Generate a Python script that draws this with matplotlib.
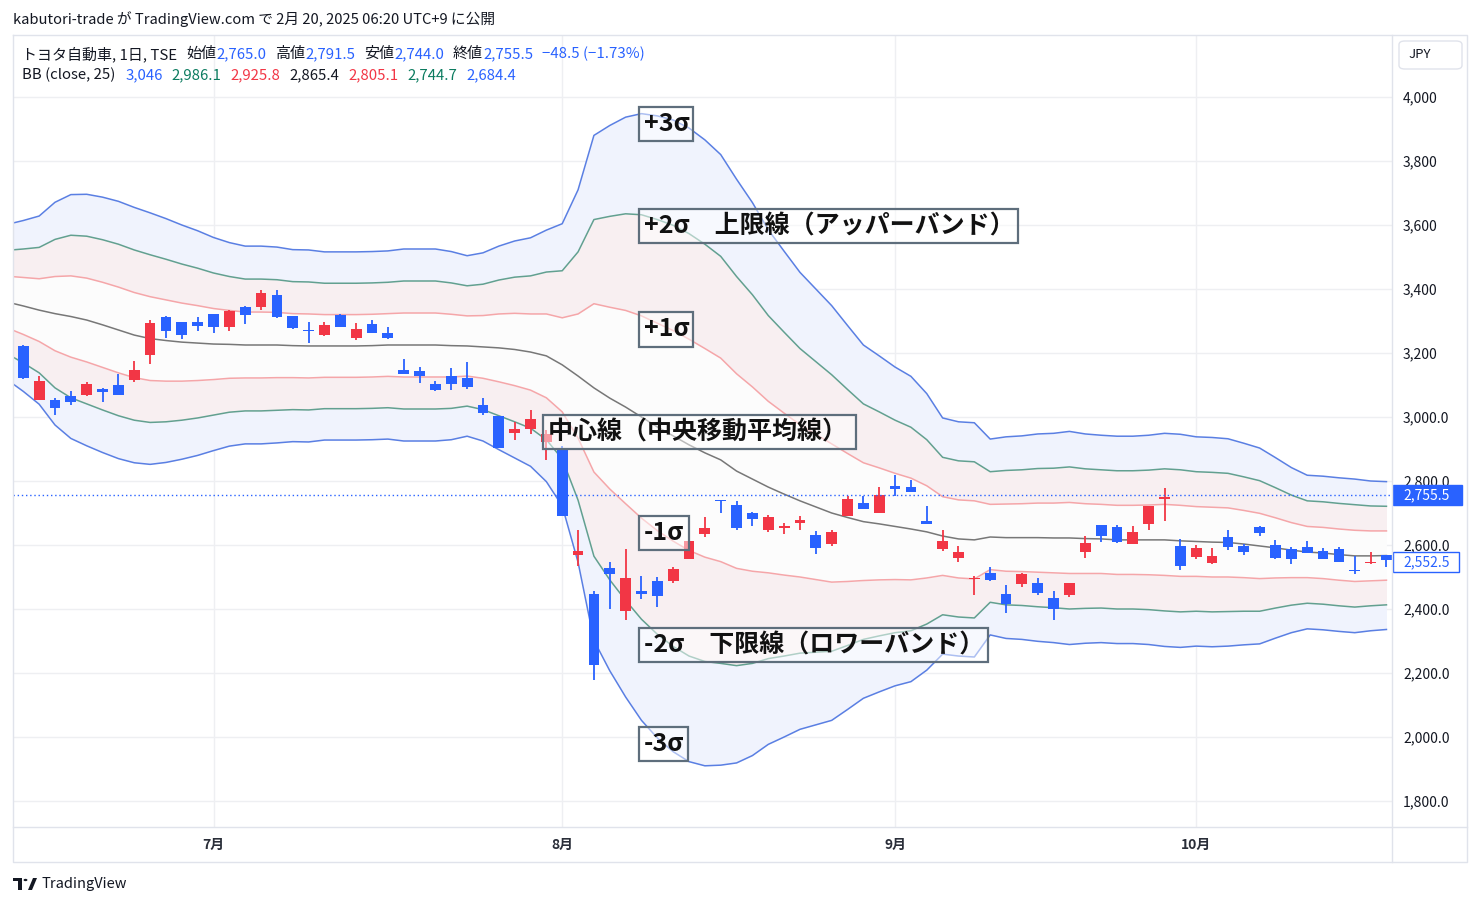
import matplotlib
matplotlib.use('Agg')
import matplotlib.pyplot as plt
import matplotlib.patches as patches
from matplotlib.lines import Line2D
import numpy as np
import pandas as pd

plt.rcParams['font.family'] = ['Noto Sans CJK JP', 'DejaVu Sans']

# 営業日 (2024/6/13 - 2024/10/18、祝日を除く)
holidays = ['2024-07-15', '2024-08-12', '2024-09-16', '2024-09-23', '2024-10-14']
days = pd.bdate_range('2024-06-13', '2024-10-18')
days = days[~days.isin(pd.to_datetime(holidays))]

# ローソク足 (始値, 高値, 安値, 終値)
opens = [3222, 3054, 3053, 3066, 3070, 3088, 3100, 3117, 3195, 3312, 3297, 3297, 3322, 3282,
         3344, 3344, 3381, 3316, 3272, 3257, 3319, 3248, 3291, 3262, 3147, 3144, 3103, 3128,
         3122, 3037, 3003, 2951, 2962, 2923, 2899, 2570, 2447, 2527, 2395, 2456, 2487, 2488,
         2557, 2635, 2741, 2725, 2700, 2647, 2654, 2670, 2631, 2604, 2692, 2731, 2700, 2784,
         2781, 2675, 2588, 2559, 2494, 2513, 2447, 2479, 2481, 2434, 2444, 2578, 2663, 2656,
         2603, 2666, 2745, 2597, 2564, 2545, 2625, 2598, 2656, 2600, 2588, 2594, 2581, 2588,
         2523, 2543, 2569]
highs = [3225, 3128, 3059, 3081, 3109, 3091, 3134, 3175, 3303, 3316, 3297, 3312, 3322, 3334,
         3347, 3397, 3397, 3316, 3297, 3297, 3322, 3294, 3303, 3281, 3181, 3156, 3112, 3153,
         3172, 3059, 3003, 2983, 3022, 2959, 2909, 2647, 2456, 2546, 2586, 2503, 2499, 2532,
         2630, 2687, 2741, 2737, 2703, 2694, 2669, 2691, 2644, 2647, 2753, 2753, 2781, 2819,
         2803, 2722, 2647, 2597, 2503, 2531, 2475, 2513, 2497, 2456, 2481, 2628, 2663, 2663,
         2659, 2722, 2778, 2619, 2600, 2591, 2647, 2602, 2659, 2616, 2594, 2613, 2591, 2594,
         2565, 2578, 2569]
lows = [3120, 3054, 3007, 3037, 3066, 3047, 3070, 3109, 3166, 3246, 3243, 3269, 3262, 3270,
        3292, 3334, 3310, 3275, 3232, 3254, 3282, 3242, 3263, 3245, 3135, 3107, 3081, 3085,
        3088, 3005, 2904, 2928, 2946, 2866, 2691, 2535, 2178, 2400, 2366, 2431, 2407, 2480,
        2557, 2625, 2701, 2647, 2660, 2641, 2635, 2647, 2573, 2597, 2692, 2713, 2700, 2753,
        2765, 2666, 2581, 2547, 2444, 2488, 2388, 2469, 2444, 2366, 2438, 2559, 2609, 2606,
        2603, 2647, 2675, 2522, 2557, 2542, 2585, 2570, 2629, 2557, 2542, 2576, 2557, 2548,
        2510, 2542, 2532]
closes = [3123, 3112, 3029, 3048, 3103, 3079, 3070, 3147, 3294, 3269, 3257, 3285, 3282, 3331,
          3320, 3387, 3313, 3278, 3269, 3287, 3282, 3275, 3263, 3248, 3135, 3128, 3085, 3104,
          3095, 3013, 2904, 2962, 2994, 2948, 2691, 2581, 2225, 2510, 2497, 2446, 2442, 2525,
          2612, 2653, 2737, 2654, 2682, 2687, 2659, 2678, 2592, 2641, 2744, 2713, 2756, 2776,
          2765, 2666, 2612, 2578, 2497, 2491, 2416, 2509, 2450, 2400, 2481, 2606, 2628, 2609,
          2641, 2722, 2749, 2534, 2591, 2566, 2595, 2579, 2638, 2560, 2557, 2576, 2557, 2548,
          2520, 2546, 2552.5]

# ボリンジャーバンド (25日): 中心線と σ (6/12 から)
bb_mid = [3359, 3347, 3334, 3323, 3314, 3303, 3288, 3272, 3256, 3245, 3239, 3234, 3231, 3228,
          3227, 3225, 3225, 3225, 3223, 3222, 3222, 3222, 3222, 3223, 3225, 3225, 3225, 3225,
          3223, 3222, 3219, 3216, 3211, 3203, 3191, 3163, 3128, 3091, 3059, 3031, 3000, 2969,
          2941, 2913, 2888, 2866, 2831, 2806, 2781, 2759, 2738, 2719, 2700, 2686, 2673, 2666,
          2658, 2650, 2641, 2628, 2619, 2616, 2625, 2623, 2623, 2623, 2622, 2622, 2620, 2619,
          2616, 2616, 2616, 2616, 2613, 2611, 2609, 2608, 2603, 2597, 2591, 2584, 2578, 2575,
          2570, 2566, 2566, 2567]
bb_sd = [81, 89, 98, 116, 127, 131, 133, 134, 133, 131, 127, 122, 117, 111,
         106, 103, 103, 102, 100, 100, 98, 98, 98, 98, 98, 100, 100, 100,
         98, 94, 98, 106, 113, 119, 131, 147, 194, 263, 284, 302, 316, 324,
         329, 330, 326, 318, 304, 288, 268, 253, 238, 227, 216, 200, 184, 175,
         166, 159, 144, 123, 122, 122, 102, 105, 106, 108, 109, 111, 109, 108,
         108, 108, 109, 111, 111, 109, 109, 108, 105, 102, 94, 86, 80, 80,
         80, 80, 78, 77]

price_ticks = [1800, 2000, 2200, 2400, 2600, 2800, 3000, 3200, 3400, 3600, 3800, 4000]
price_labels = ['1,800.0', '2,000.0', '2,200.0', '2,400.0', '2,600.0', '2,800.0', '3,000.0',
                '3,200', '3,400', '3,600', '3,800', '4,000']
month_labels = ['7月', '8月', '9月', '10月']
last_price = 2755.5

UP = '#f23645'
DOWN = '#2962ff'
TXT = '#131722'

W, H = 1480, 906
fig = plt.figure(figsize=(W / 100, H / 100), dpi=100)


def fx(x):
    return x / W


def fy(y):
    return 1 - y / H


ax = fig.add_axes([fx(13), fy(827), fx(1392) - fx(13), fy(35) - fy(827)])
ax.set_facecolor('white')

x = np.arange(len(days))
o, h, l, c = map(np.array, (opens, highs, lows, closes))

# バンド
bx = np.arange(-1, len(days))
mid = np.array(bb_mid, dtype=float)
sd = np.array(bb_sd, dtype=float)
ax.fill_between(bx, mid + 2 * sd, mid + 3 * sd, color='#f0f3fd', lw=0, zorder=1)
ax.fill_between(bx, mid - 3 * sd, mid - 2 * sd, color='#f0f3fd', lw=0, zorder=1)
ax.fill_between(bx, mid + sd, mid + 2 * sd, color='#f8eff1', lw=0, zorder=1)
ax.fill_between(bx, mid - 2 * sd, mid - sd, color='#f8eff1', lw=0, zorder=1)
ax.fill_between(bx, mid - sd, mid + sd, color='#fcfcfc', lw=0, zorder=1)
for k, col in [(3, '#5a7fe3'), (2, '#62a090'), (1, '#f5a6a9')]:
    ax.plot(bx, mid + k * sd, color=col, lw=1.1, zorder=3)
    ax.plot(bx, mid - k * sd, color=col, lw=1.1, zorder=3)
ax.plot(bx, mid, color='#777777', lw=1.1, zorder=3)

# ローソク足
cols = [UP if cc >= oo else DOWN for oo, cc in zip(o, c)]
body_lo = np.minimum(o, c)
body_h = np.maximum(np.abs(c - o), 3)
ax.vlines(x, l, h, colors=cols, lw=1.3, zorder=4)
ax.bar(x, body_h, bottom=body_lo, width=0.68, color=cols, lw=0, zorder=5)

# 現在値の点線
ax.axhline(last_price, color=DOWN, lw=1, ls=(0, (1, 2)), zorder=6)

ax.set_xlim(-0.65, 86.35)
ax.set_ylim(1718.75, 4193.75)
ax.set_yticks(price_ticks)
ax.set_yticklabels(price_labels)
ax.yaxis.tick_right()
ax.tick_params(axis='y', length=0, pad=8, labelsize=10, labelcolor=TXT)
month_start = [i for i in range(1, len(days)) if days[i].month != days[i - 1].month]
ax.set_xticks(month_start)
ax.set_xticklabels(month_labels, fontweight='bold')
ax.tick_params(axis='x', length=0, pad=8, labelsize=10, labelcolor='#2a2e39')
ax.grid(True, color='#eeeff2', lw=1, zorder=0)
ax.set_axisbelow(True)
for s in ax.spines.values():
    s.set_visible(False)

# 枠線
frame = '#e0e3eb'
fig.add_artist(Line2D([fx(13), fx(1467), fx(1467), fx(13), fx(13)],
                      [fy(35), fy(35), fy(862), fy(862), fy(35)], color=frame, lw=1))
fig.add_artist(Line2D([fx(1392), fx(1392)], [fy(35), fy(862)], color=frame, lw=1))
fig.add_artist(Line2D([fx(13), fx(1467)], [fy(827), fy(827)], color=frame, lw=1))

# 上部テキスト
fig.text(fx(13), fy(19), 'kabutori-trade が TradingView.com で 2月 20, 2025 06:20 UTC+9 に公開',
         fontsize=10.6, color=TXT, va='center', ha='left')

renderer = fig.canvas.get_renderer()


def rich(x0, y0, parts, size=10.8):
    xx = x0
    for s, col, gap in parts:
        t = fig.text(fx(xx), fy(y0), s, color=col, fontsize=size, va='center', ha='left')
        xx += t.get_window_extent(renderer=renderer).width + gap


rich(22, 54, [('トヨタ自動車, 1日, TSE', TXT, 9), ('始値', TXT, 0), ('2,765.0', DOWN, 9),
              ('高値', TXT, 0), ('2,791.5', DOWN, 9), ('安値', TXT, 0), ('2,744.0', DOWN, 9),
              ('終値', TXT, 0), ('2,755.5', DOWN, 9), ('−48.5 (−1.73%)', DOWN, 0)])
rich(22, 75, [('BB (close, 25)', TXT, 10), ('3,046', '#2962ff', 9), ('2,986.1', '#0b7b5f', 9),
              ('2,925.8', UP, 9), ('2,865.4', TXT, 9), ('2,805.1', UP, 9),
              ('2,744.7', '#0b7b5f', 9), ('2,684.4', '#2962ff', 0)])

# JPY ボックス
fig.add_artist(patches.FancyBboxPatch((fx(1399), fy(69)), fx(1462) - fx(1399), fy(41) - fy(69),
                                      boxstyle='round,pad=0,rounding_size=0.004',
                                      transform=fig.transFigure, fc='white', ec=frame, lw=1))
fig.text(fx(1420), fy(55), 'JPY', fontsize=9.5, color=TXT, ha='center', va='center')

# 価格ラベル
fig.add_artist(patches.Rectangle((fx(1393), fy(505)), fx(1462) - fx(1393), fy(485) - fy(505),
                                 transform=fig.transFigure, fc=DOWN, ec=DOWN, lw=1))
fig.text(fx(1403), fy(495), '2,755.5', fontsize=10, color='white', ha='left', va='center')
fig.add_artist(patches.Rectangle((fx(1393), fy(572)), fx(1459) - fx(1393), fy(552) - fy(572),
                                 transform=fig.transFigure, fc='white', ec=DOWN, lw=1))
fig.text(fx(1403), fy(562), '2,552.5', fontsize=10, color=DOWN, ha='left', va='center')

# 注釈ボックス
notes = [
    (639, 693, 107, 141, '+3σ'),
    (639, 1018, 209, 243, '+2σ\u3000上限線（アッパーバンド）'),
    (639, 693, 312, 347, '+1σ'),
    (543, 856, 415, 449, '中心線（中央移動平均線）'),
    (639, 689, 516, 550, '-1σ'),
    (639, 988, 628, 662, '-2σ\u3000下限線（ロワーバンド）'),
    (639, 688, 727, 761, '-3σ'),
]
for x0, x1, y0, y1, s in notes:
    fig.add_artist(patches.Rectangle((fx(x0), fy(y1)), fx(x1) - fx(x0), fy(y0) - fy(y1),
                                     transform=fig.transFigure, fc=(1, 1, 1, 0.5),
                                     ec='#5e6e7c', lw=1.6, zorder=10))
    fig.text(fx(x0 + 5), fy((y0 + y1) / 2), s, fontsize=18, fontweight='bold', color='#111111',
             ha='left', va='center', zorder=11)

# TradingView ロゴ
logo = '#131722'
fig.add_artist(patches.Rectangle((fx(13), fy(881)), fx(22) - fx(13), fy(878) - fy(881),
                                 transform=fig.transFigure, fc=logo, ec='none'))
fig.add_artist(patches.Rectangle((fx(18), fy(890)), fx(22) - fx(18), fy(878) - fy(890),
                                 transform=fig.transFigure, fc=logo, ec='none'))
fig.add_artist(patches.Circle((fx(25.5), fy(880)), 0.0013, transform=fig.transFigure, fc=logo))
fig.add_artist(patches.Polygon([(fx(28), fy(890)), (fx(33), fy(878)), (fx(37), fy(878)),
                                (fx(32), fy(890))], transform=fig.transFigure, fc=logo))
fig.text(fx(41), fy(884), 'TradingView', fontsize=10.5, color=TXT, ha='left', va='center')

fig.savefig('out.png', dpi=100)
